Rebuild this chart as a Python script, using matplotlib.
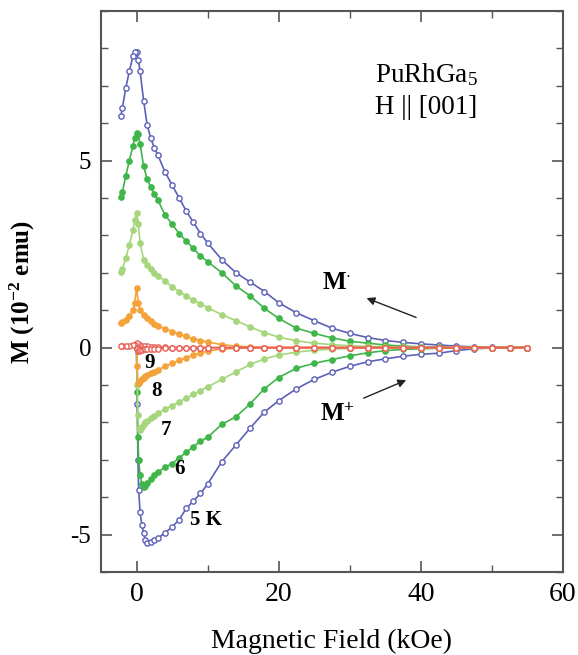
import matplotlib
matplotlib.use("Agg")
import matplotlib.pyplot as plt
from matplotlib.ticker import MultipleLocator

plt.rcParams['font.family'] = ['Liberation Serif', 'DejaVu Serif']
plt.rcParams['mathtext.fontset'] = 'custom'
plt.rcParams['mathtext.rm'] = 'Liberation Serif'
plt.rcParams['mathtext.it'] = 'Liberation Serif:italic'
plt.rcParams['mathtext.bf'] = 'Liberation Serif:bold'
plt.rcParams['axes.unicode_minus'] = False

# Field values for decreasing-field branch (M-) and increasing-field branch (M+)
H_dn = [55, 52.5, 50, 47.5, 45, 42.5, 40, 37.5, 35, 32.5, 30, 27.5, 25, 22.5, 20,
        18, 16, 14, 12, 10, 9, 8, 7, 6, 5, 4, 3, 2.5, 2, 1.5, 1, 0.5, 0.25, 0,
        -0.25, -0.5, -1, -1.5, -2, -2.2]
H_up = [0, 0.1, 0.2, 0.3, 0.5, 0.75, 1, 1.25, 1.5, 2, 2.5, 3, 4, 5, 6, 7, 8, 9, 10,
        12, 14, 16, 18, 20, 22.5, 25, 27.5, 30, 32.5, 35, 37.5, 40, 42.5, 45, 47.5,
        50, 52.5, 55]

# M- branches (10^-2 emu)
M5_dn = [0.0, 0.0, 0.01, 0.02, 0.04, 0.07, 0.1, 0.14, 0.19, 0.27, 0.38, 0.52, 0.72, 0.93, 1.2,
         1.5, 1.75, 2.0, 2.35, 2.8, 3.05, 3.35, 3.65, 4.0, 4.35, 4.7, 5.15, 5.35, 5.6, 5.95, 6.6, 7.4, 7.7, 7.9,
         7.9, 7.8, 7.4, 6.95, 6.4, 6.2]
M6_dn = [0.0, 0.0, 0.0, 0.0, 0.0, 0.01, 0.02, 0.04, 0.07, 0.12, 0.17, 0.26, 0.38, 0.52, 0.78,
         1.05, 1.38, 1.65, 2.0, 2.3, 2.45, 2.65, 2.85, 3.05, 3.3, 3.55, 3.95, 4.1, 4.3, 4.5, 4.85, 5.45, 5.7, 5.75,
         5.6, 5.4, 5.0, 4.6, 4.15, 4.03]
M7_dn = [0.0, 0.0, 0.0, 0.0, 0.0, 0.0, 0.0, 0.01, 0.02, 0.03, 0.05, 0.08, 0.12, 0.18, 0.28,
         0.4, 0.55, 0.72, 0.88, 1.07, 1.17, 1.27, 1.38, 1.5, 1.62, 1.78, 1.92, 2.0, 2.1, 2.2, 2.35, 2.8, 3.3, 3.6,
         3.4, 3.15, 2.75, 2.4, 2.1, 2.03]
M8_dn = [0.0, 0.0, 0.0, 0.0, 0.0, 0.0, 0.0, 0.0, 0.0, 0.0, 0.0, 0.0, 0.0, 0.0, 0.0,
         0.0, 0.02, 0.04, 0.08, 0.15, 0.19, 0.24, 0.3, 0.36, 0.43, 0.5, 0.58, 0.63, 0.7, 0.78, 0.86, 1.0, 1.2, 1.6,
         1.2, 1.0, 0.85, 0.75, 0.68, 0.65]
M9_dn = [0.0, 0.0, 0.0, 0.0, 0.0, 0.0, 0.0, 0.0, 0.0, 0.0, 0.0, 0.0, 0.0, 0.0, 0.0,
         0.0, 0.0, 0.0, 0.0, 0.0, 0.0, 0.0, 0.0, 0.0, 0.0, 0.01, 0.01, 0.02, 0.02, 0.03, 0.04, 0.06, 0.08, 0.12,
         0.08, 0.06, 0.05, 0.04, 0.03, 0.03]

# M+ branches
M5_up = [0.0, -1.5, -3.0, -3.8, -4.4, -4.75, -4.95, -5.15, -5.22, -5.2, -5.15, -5.1, -4.95, -4.8, -4.6, -4.3,
         -4.1, -3.9, -3.65, -3.05, -2.6, -2.15, -1.72, -1.42, -1.1, -0.85, -0.66, -0.5, -0.38, -0.3, -0.23,
         -0.18, -0.15, -0.08, -0.03, -0.01, 0.0, 0.0]
M6_up = [0.0, -1.2, -2.4, -3.0, -3.4, -3.65, -3.72, -3.7, -3.62, -3.5, -3.4, -3.33, -3.2, -3.1, -2.95, -2.8,
         -2.65, -2.5, -2.4, -2.05, -1.85, -1.5, -1.1, -0.8, -0.55, -0.42, -0.32, -0.22, -0.14, -0.08, -0.05,
         -0.03, -0.02, 0.0, 0.0, 0.0, 0.0, 0.0]
M7_up = [0.0, -1.0, -1.8, -2.15, -2.2, -2.12, -2.05, -2.0, -1.95, -1.88, -1.82, -1.75, -1.65, -1.55, -1.45,
         -1.35, -1.25, -1.15, -1.05, -0.85, -0.65, -0.45, -0.3, -0.2, -0.12, -0.07, -0.04, -0.02, 0.0, 0.0, 0.0,
         0.0, 0.0, 0.0, 0.0, 0.0, 0.0, 0.0]
M8_up = [0.0, -0.5, -0.95, -0.95, -0.9, -0.85, -0.8, -0.77, -0.74, -0.68, -0.64, -0.6, -0.5, -0.42, -0.34,
         -0.27, -0.2, -0.14, -0.09, -0.04, -0.02, 0.0, 0.0, 0.0, 0.0, 0.0, 0.0, 0.0, 0.0, 0.0, 0.0, 0.0, 0.0,
         0.0, 0.0, 0.0, 0.0, 0.0]
M9_up = [0.0, -0.05, -0.08, -0.08, -0.07, -0.06, -0.05, -0.05, -0.04, -0.04, -0.03, -0.03, -0.02, -0.02,
         -0.01, -0.01, 0.0, 0.0, 0.0, 0.0, 0.0, 0.0, 0.0, 0.0, 0.0, 0.0, 0.0, 0.0, 0.0, 0.0, 0.0, 0.0, 0.0, 0.0,
         0.0, 0.0, 0.0, 0.0]

temps = ["5 K", "6", "7", "8", "9"]
label_pos = [(9.8, -4.6), (6.0, -3.25), (4.2, -2.2), (2.8, -1.15), (1.9, -0.4)]

fig = plt.figure(figsize=(5.78, 6.55), dpi=100)
ax = fig.add_axes([0.1747, 0.1267, 0.7993, 0.8565])

styles = [
    dict(color='#5c60b8', mfc='white', mec='#5c60b8'),
    dict(color='#3fb54a', mfc='#3fb54a', mec='#3fb54a'),
    dict(color='#a6d67c', mfc='#a6d67c', mec='#a6d67c'),
    dict(color='#f4a23a', mfc='#f4a23a', mec='#f4a23a'),
    dict(color='#e86058', mfc='white', mec='#e86058'),
]
dn = [M5_dn, M6_dn, M7_dn, M8_dn, M9_dn]
up = [M5_up, M6_up, M7_up, M8_up, M9_up]
for s, md, mu in zip(styles, dn, up):
    for Hs, Ms in ((H_dn, md), (H_up, mu)):
        ax.plot(Hs, Ms, '-', marker='o', ms=3.8, lw=1.2, mew=1.0,
                color=s['color'], mfc=s['mfc'], mec=s['mec'])

ax.set_xlim(-5, 60)
ax.set_ylim(-6, 9)
ax.xaxis.set_major_locator(MultipleLocator(20))
ax.xaxis.set_minor_locator(MultipleLocator(10))
ax.yaxis.set_major_locator(MultipleLocator(5))
ax.yaxis.set_minor_locator(MultipleLocator(1))
ax.tick_params(which='both', direction='in', top=True, right=True, color='#555555')
ax.tick_params(axis='x', labelsize=20, pad=7)
ax.tick_params(axis='y', labelsize=18, pad=7)
ax.tick_params(which='major', length=8, width=1.2)
ax.tick_params(which='minor', length=5, width=1.0)
for sp in ax.spines.values():
    sp.set_color('#555555')
    sp.set_linewidth(1.5)

ax.set_xlabel('Magnetic Field (kOe)', fontsize=20, labelpad=16)
ax.set_ylabel(r'M (10$^{\mathbf{-2}}$ emu)', fontsize=18, fontweight='bold', labelpad=24)

ax.text(40.8, 7.3, r'PuRhGa$_5$', fontsize=19.5, ha='center', va='center')
ax.text(40.8, 6.42, 'H || [001]', fontsize=19.5, ha='center', va='center')

ax.text(28.2, 1.75, r'M$^{\mathbf{\cdot}}$', fontsize=18, ha='center', va='center', fontweight='bold')
ax.annotate('', xy=(32.0, 1.35), xytext=(39.7, 0.78),
            arrowprops=dict(arrowstyle='-|>', color='#222222', lw=1.0, mutation_scale=12))
ax.text(28.2, -1.8, r'M$^{\mathbf{+}}$', fontsize=18, ha='center', va='center', fontweight='bold')
ax.annotate('', xy=(38.3, -0.84), xytext=(31.6, -1.38),
            arrowprops=dict(arrowstyle='-|>', color='#222222', lw=1.0, mutation_scale=12))

for t, (x, y) in zip(temps, label_pos):
    ax.text(x, y, t, fontsize=15, ha='center', va='center', fontweight='bold')

fig.savefig('out.png', dpi=100)
